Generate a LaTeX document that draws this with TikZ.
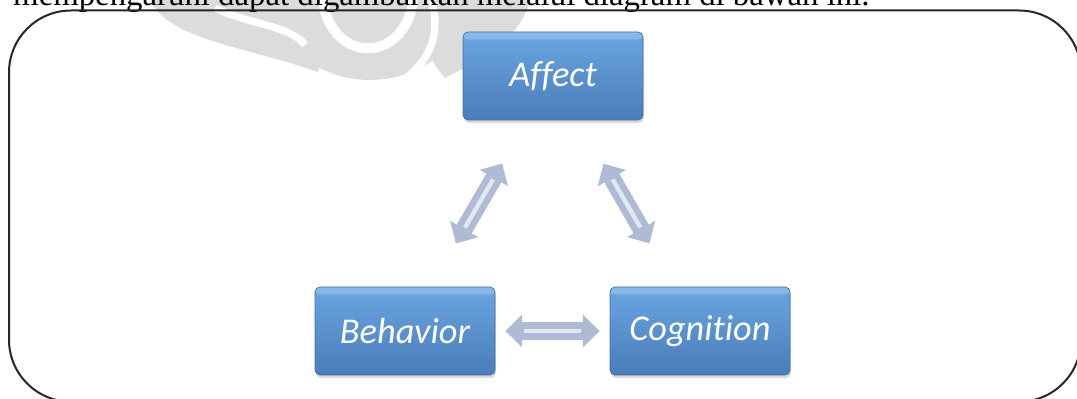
\documentclass[tikz,border=0pt]{standalone}
\usepackage{fontspec}
\setmainfont{Liberation Serif}
\newfontfamily\boxfont[Ligatures=NoCommon]{Carlito}
\usetikzlibrary{arrows.meta,shadows,positioning}
\definecolor{boxtop}{HTML}{6AA6E2}
\definecolor{boxbot}{HTML}{4A7CB9}
\definecolor{boxline}{HTML}{4572A6}
\definecolor{arrowfill}{HTML}{AFBBD4}
\definecolor{arrowlight}{HTML}{E2E8F3}
\definecolor{wmark}{HTML}{DCDCDC}

\begin{document}
\begin{tikzpicture}[
  x=0.03cm, y=-0.03cm,
  concept/.style={rectangle, rounded corners=0.15cm, draw=boxline, line width=0.6pt,
    top color=boxtop, bottom color=boxbot, minimum width=5.4cm, minimum height=2.64cm,
    text=white, font=\boxfont\itshape\fontsize{31}{36}\selectfont,
    drop shadow={opacity=0.3, shadow xshift=0.03cm, shadow yshift=-0.09cm},
    path picture={\fill[white, opacity=0.22] (path picture bounding box.north west)
      rectangle ([yshift=-0.22cm]path picture bounding box.north east);}},
  relation/.style={draw=arrowfill, line width=0.52cm, shorten <=#1, shorten >=#1,
    {Triangle[length=0.5cm, width=0.95cm]}-{Triangle[length=0.5cm, width=0.95cm]},
    postaction={draw=arrowlight, line width=0.13cm, -, shorten <=#1+0.55cm, shorten >=#1+0.55cm}}
]
  \useasboundingbox (0,0) rectangle (1077,399);
  \clip (0,0) rectangle (1077,399);

  % watermark behind the text
  \fill[wmark] (370,-30) circle (3.3cm);
  \fill[wmark] (150,0) .. controls (170,40) and (240,45) .. (318,72) -- (330,30) -- (320,0) -- cycle;
  \fill[wmark] (420,0) -- (530,0) .. controls (520,40) and (480,60) .. (445,78) .. controls (430,60) .. cycle;
  \draw[white, line width=0.3cm] (368,-5) ellipse (1.35cm and 1.6cm);
  \draw[white, line width=0.22cm] (215,8) .. controls (250,25) and (290,25) .. (305,45);
  \draw[white, line width=0.22cm] (432,0) .. controls (440,35) and (432,60) .. (400,82);

  \node[anchor=base west, inner sep=0, font=\fontsize{28}{30}\selectfont] (intro) at (13,6)
    {mempengaruhi dapat digambarkan melalui diagram di bawah ini.};
  \draw[line width=0.06cm, draw=black!85, rounded corners=1.86cm] (9,10.5) rectangle (1081,401.7);

  \node[concept] (affect) at (553,76) {Affect};
  \node[concept] (behavior) at (405,331) {Behavior};
  \node[concept] (cognition) at (700,331) {Cognition};

  \draw[relation=1.5cm] (affect) -- (behavior);
  \draw[relation=1.5cm] (affect) -- (cognition);
  \draw[relation=0.3cm] (behavior) -- (cognition);
\end{tikzpicture}
\end{document}
